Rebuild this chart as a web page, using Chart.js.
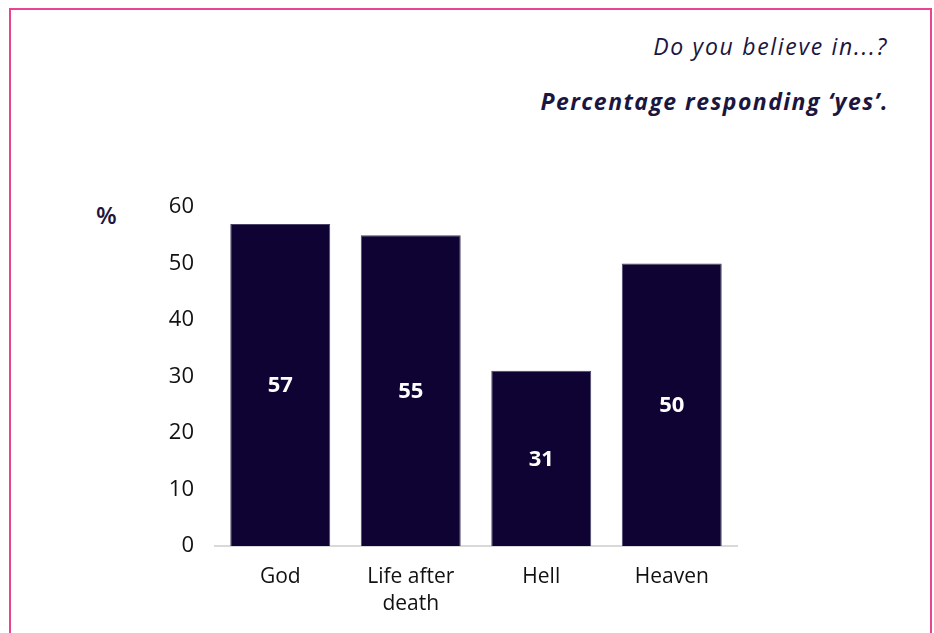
<!DOCTYPE html>
<html>
<head>
<meta charset="utf-8">
<script src="https://cdn.jsdelivr.net/npm/chart.js@4"></script>
<style>
  html, body { margin: 0; padding: 0; background: #fff; }
  body { width: 934px; height: 633px; position: relative; overflow: hidden; font-family: "Open Sans", Lato, sans-serif; }
  .frame { position: absolute; left: 9px; top: 8px; width: 919px; height: 700px; border: 2px solid #e8448f; }
  .q { position: absolute; right: 46px; top: 30px; font-size: 23px; letter-spacing: 1.7px; font-style: italic; color: #1b1640; }
  .sub { position: absolute; right: 45px; top: 85px; font-size: 23px; letter-spacing: 1.45px; font-style: italic; font-weight: bold; color: #1b1640; }
  .pct { position: absolute; left: 96px; top: 198px; font-size: 24px; font-weight: 600; color: #1b1640; }
  #wrap { position: absolute; left: 0; top: 0; width: 934px; height: 633px; }
</style>
</head>
<body>
<div class="frame"></div>
<div class="q">Do you believe in...?</div>
<div class="sub">Percentage responding ‘yes’.</div>
<div class="pct">%</div>
<div id="wrap"><canvas id="chart" width="934" height="633"></canvas></div>
<script>
// datos del gráfico
const categories = [['God'], ['Life after', 'death'], ['Hell'], ['Heaven']];
const yesValues = [57, 55, 31, 50];
const yTicks = [0, 10, 20, 30, 40, 50, 60];

// etiquetas blancas en el centro de cada barra
const barLabels = {
  id: 'barLabels',
  afterDatasetsDraw(chart) {
    const ctx = chart.ctx;
    const meta = chart.getDatasetMeta(0);
    ctx.save();
    ctx.fillStyle = '#ffffff';
    ctx.font = 'bold 22px "Open Sans", Lato, sans-serif';
    ctx.textAlign = 'center';
    ctx.textBaseline = 'middle';
    meta.data.forEach((bar, i) => {
      const p = bar.getProps(['x', 'y', 'base'], true);
      ctx.fillText(String(yesValues[i]), p.x, (p.y + p.base) / 2 + 1);
    });
    ctx.restore();
  }
};

new Chart(document.getElementById('chart'), {
  type: 'bar',
  data: {
    labels: categories,
    datasets: [{
      data: yesValues,
      backgroundColor: '#0e0333',
      borderColor: '#4a4468',
      borderWidth: 1,
      barPercentage: 0.766,
      categoryPercentage: 1
    }]
  },
  options: {
    responsive: false,
    animation: false,
    devicePixelRatio: 1,
    layout: { padding: { left: 140, right: 197, top: 207, bottom: 21 } },
    plugins: { legend: { display: false }, tooltip: { enabled: false } },
    scales: {
      x: {
        grid: { display: false, drawTicks: false },
        border: { display: true, color: '#d9d9d9', width: 2 },
        ticks: { color: '#111111', font: { family: '"Open Sans"', size: 21, lineHeight: 1.3 }, padding: 17, maxRotation: 0 },
        afterFit(scale) { scale.height = 66; }
      },
      y: {
        min: 0,
        max: 60,
        afterBuildTicks(scale) { scale.ticks = yTicks.map(v => ({ value: v })); },
        grid: { display: false, drawTicks: false },
        border: { display: false },
        ticks: { color: '#111111', font: { family: '"Open Sans"', size: 22 }, padding: 21 },
        afterFit(scale) { scale.width = 75; }
      }
    }
  },
  plugins: [barLabels]
});
</script>
</body>
</html>
